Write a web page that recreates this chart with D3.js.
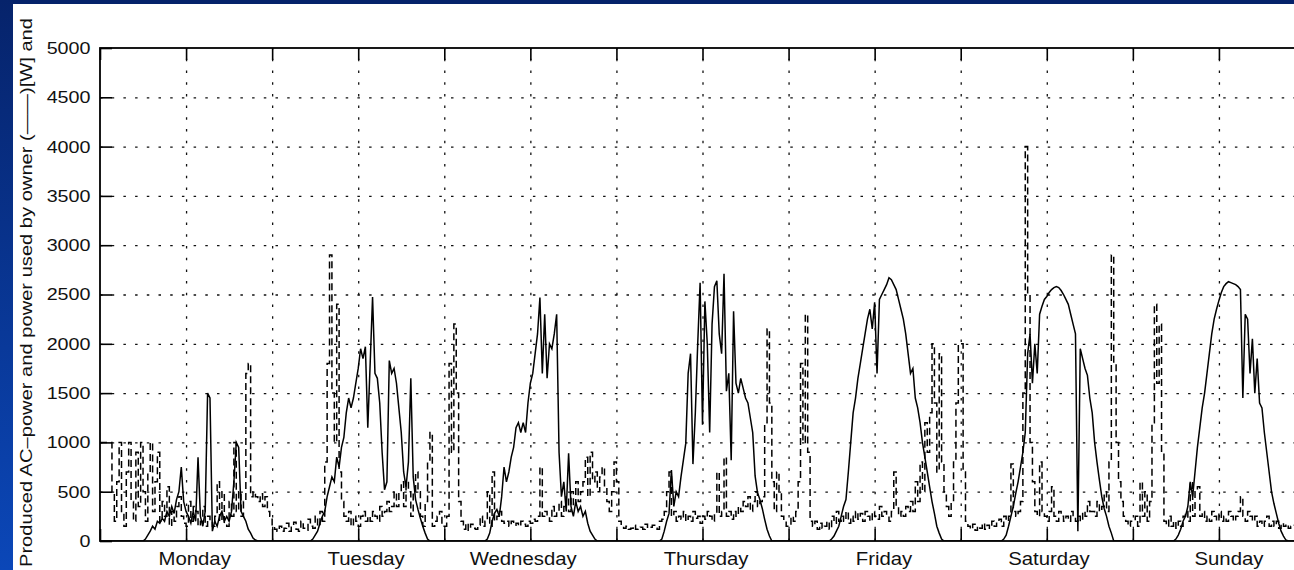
<!DOCTYPE html>
<html>
<head>
<meta charset="utf-8">
<script src="https://cdn.jsdelivr.net/npm/d3@7"></script>
<style>
  html, body { margin: 0; padding: 0; background: #ffffff; overflow: hidden; }
  svg { display: block; }
  text { font-family: "Liberation Sans", Arial, Helvetica, sans-serif; fill: #111; }
</style>
</head>
<body>
<div id="chart"></div>
<script>
// one week, 20-minute samples, values in W
const STEP = 1 / 3;        // hours between samples
const PROD_START = 5;      // production arrays run 05:00 .. 22:00

const days = ["Monday", "Tuesday", "Wednesday", "Thursday", "Friday", "Saturday", "Sunday"];
const dayLabelHours = [13.2, 37.1, 59.0, 84.5, 109.3, 132.3, 157.4];
const yTicks = [0, 500, 1000, 1500, 2000, 2500, 3000, 3500, 4000, 4500, 5000];
const xTicks = [0, 12, 24, 36, 48, 60, 72, 84, 96, 108, 120, 132, 144, 156, 168];

// produced AC power (solid), 05:00 - 22:00
const prodMon = [0, 0, 0, 0, 20, 60, 100, 150, 120, 200, 180, 230, 200, 300, 250, 350, 280, 420,
  500, 750, 400, 300, 250, 180, 300, 200, 850, 250, 150, 300, 1500, 1450, 100, 200, 150, 250,
  300, 200, 250, 200, 300, 600, 1000, 950, 300, 250, 200, 120, 80, 30, 10, 0];
const prodTue = [0, 0, 20, 60, 100, 180, 250, 300, 450, 550, 650, 600, 850, 750, 950, 1050, 1300, 1450,
  1350, 1450, 1600, 1750, 1950, 1850, 1970, 1150, 1800, 2475, 1700, 1650, 1400, 900, 520, 600, 1830, 1700,
  1750, 1600, 1350, 1100, 700, 550, 800, 1650, 650, 420, 320, 230, 150, 80, 20, 0];
const prodWed = [0, 0, 0, 20, 80, 200, 280, 320, 250, 450, 750, 600, 700, 850, 950, 1150, 1200, 1100,
  1200, 1100, 1400, 1600, 1700, 1900, 2100, 2470, 1700, 2300, 1650, 2000, 1950, 2100, 2300, 900, 450, 600,
  300, 890, 350, 250, 400, 300, 350, 250, 300, 180, 100, 60, 20, 0, 0, 0];
const prodThu = [0, 0, 0, 0, 20, 100, 200, 280, 720, 350, 500, 450, 650, 820, 990, 1700, 1900, 780,
  1300, 2000, 2620, 1180, 2430, 2000, 1100, 2200, 2580, 2640, 2100, 1900, 2710, 1520, 1700, 820, 2330, 1600,
  1500, 1650, 1550, 1450, 1400, 1250, 1100, 660, 490, 420, 330, 220, 120, 50, 0, 0];
const prodFri = [0, 0, 0, 20, 50, 100, 150, 250, 350, 420, 700, 1000, 1300, 1450, 1650, 1800, 1950, 2100,
  2250, 2350, 2150, 2420, 1700, 2450, 2500, 2550, 2600, 2670, 2650, 2600, 2550, 2450, 2350, 2250, 2100, 1900,
  1700, 1750, 1450, 1350, 1200, 1000, 850, 700, 550, 400, 280, 150, 80, 20, 0, 0];
const prodSat = [0, 0, 0, 20, 60, 150, 250, 350, 480, 600, 750, 900, 1100, 1900, 2100, 1600, 2000, 1700,
  2300, 2380, 2450, 2480, 2520, 2550, 2570, 2580, 2570, 2540, 2500, 2450, 2400, 2300, 2200, 2100, 100, 1950,
  1850, 1750, 1680, 1450, 1300, 1000, 800, 620, 450, 330, 250, 150, 80, 0, 0, 0];
const prodSun = [0, 0, 0, 20, 60, 120, 200, 250, 350, 600, 450, 700, 950, 1150, 1350, 1500, 1700, 1900,
  2100, 2250, 2350, 2440, 2520, 2580, 2610, 2630, 2620, 2610, 2600, 2580, 2550, 1450, 2300, 2250, 1700, 2050,
  1500, 1850, 1400, 1350, 1100, 900, 700, 500, 380, 280, 180, 100, 50, 10, 0, 0];

// power used by owner (dashed), 00:00 - 23:40
const useMon = [1000, 1000, 1000, 1000, 1000, 500, 200, 600, 1000, 300, 150, 700, 1000, 400, 200, 900, 350, 1000,
  500, 200, 700, 1000, 300, 600, 900, 200, 400, 250, 550, 150, 300, 200, 350, 450, 250, 180,
  150, 400, 200, 350, 300, 150, 200, 350, 150, 250, 200, 150, 250, 600, 200, 500, 180, 150,
  400, 250, 1000, 300, 500, 250, 400, 1700, 1800, 450, 500, 450, 400, 480, 350, 450, 300, 250];
const useTue = [150, 120, 100, 150, 100, 130, 180, 100, 140, 190, 120, 100, 200, 130, 110, 220, 150, 130,
  250, 150, 300, 200, 800, 1800, 2900, 1500, 1000, 2400, 700, 400, 250, 200, 300, 150, 250, 200,
  150, 250, 300, 200, 250, 200, 300, 250, 200, 350, 250, 300, 400, 300, 350, 500, 350, 500,
  600, 350, 600, 500, 250, 500, 700, 500, 250, 150, 400, 800, 1100, 150, 200, 250, 300, 150];
const useWed = [150, 250, 1800, 900, 2200, 1500, 400, 200, 120, 180, 110, 170, 130, 120, 160, 250, 150, 200,
  500, 150, 700, 200, 250, 300, 200, 180, 200, 150, 200, 160, 180, 150, 200, 170, 150, 200,
  180, 220, 200, 250, 750, 250, 300, 250, 200, 350, 250, 300, 400, 250, 350, 450, 300, 500,
  350, 600, 400, 500, 600, 850, 450, 900, 600, 700, 500, 650, 750, 550, 400, 300, 500, 800];
const useThu = [600, 200, 150, 130, 150, 120, 130, 160, 120, 130, 140, 120, 170, 130, 140, 160, 130, 120,
  200, 220, 300, 500, 700, 250, 300, 200, 250, 220, 300, 200, 250, 200, 300, 230, 250, 180,
  250, 220, 300, 250, 200, 280, 700, 250, 300, 850, 250, 300, 220, 300, 250, 350, 300, 400,
  350, 450, 300, 400, 500, 350, 400, 450, 1200, 2150, 1400, 600, 300, 700, 500, 250, 200, 150];
const useFri = [150, 250, 200, 300, 600, 1800, 1000, 2300, 900, 200, 150, 200, 120, 180, 130, 150, 200, 120,
  250, 180, 300, 200, 250, 200, 300, 180, 250, 200, 300, 220, 280, 200, 300, 250, 200, 300,
  250, 220, 350, 250, 300, 250, 200, 300, 700, 350, 250, 300, 250, 350, 300, 400, 300, 600,
  400, 800, 500, 1200, 900, 1300, 2000, 1400, 700, 1900, 800, 500, 350, 250, 400, 800, 1400, 2000];
const useSat = [2000, 700, 200, 150, 120, 170, 110, 150, 130, 180, 120, 160, 130, 200, 150, 180, 220, 150,
  250, 200, 250, 780, 300, 250, 300, 400, 1500, 4000, 2500, 1000, 600, 300, 250, 800, 300, 250,
  200, 300, 550, 250, 200, 300, 250, 200, 250, 200, 300, 250, 200, 250, 200, 300, 250, 400,
  300, 300, 250, 400, 300, 350, 500, 300, 800, 2900, 1800, 1000, 600, 400, 250, 200, 150, 200];
const useSun = [200, 250, 150, 600, 250, 500, 200, 400, 1200, 2400, 1600, 2200, 900, 200, 150, 250, 150, 200,
  130, 200, 150, 250, 300, 200, 600, 250, 500, 550, 250, 300, 200, 250, 200, 300, 250, 200,
  300, 200, 250, 200, 300, 250, 200, 250, 300, 450, 250, 200, 300, 250, 200, 250, 150, 200,
  150, 200, 250, 150, 200, 150, 200, 130, 180, 150, 170, 130, 150, 160, 140, 150, 130, 150];

const prodDays = [prodMon, prodTue, prodWed, prodThu, prodFri, prodSat, prodSun];
const useDays = [useMon, useTue, useWed, useThu, useFri, useSat, useSun];

const width = 1294;
const height = 570;
const margin = {top: 48, left: 100, bottom: 29};
const iheight = height - margin.top - margin.bottom;

// the axes box runs a little past the right edge of the slide
const x = d3.scaleLinear().domain([0, 168]).range([margin.left, 1305]);
const y = d3.scaleLinear().domain([0, 5000]).range([margin.top + iheight, margin.top]);

const produced = [];
prodDays.forEach((day, d) => {
  produced.push({t: d * 24, v: 0});
  day.forEach((v, i) => produced.push({t: d * 24 + PROD_START + i * STEP, v: v}));
});
produced.push({t: 168, v: 0});

const used = [];
useDays.forEach((day, d) => {
  day.forEach((v, i) => used.push({t: d * 24 + i * STEP, v: v}));
});
used.push({t: 168, v: useSun[useSun.length - 1]});

const svg = d3.select("#chart").append("svg")
  .attr("width", width)
  .attr("height", height);

// slide frame
const defs = svg.append("defs");
const grad = defs.append("linearGradient").attr("id", "side")
  .attr("x1", 0).attr("y1", 0).attr("x2", 0).attr("y2", 1);
grad.append("stop").attr("offset", "0%").attr("stop-color", "#06236b");
grad.append("stop").attr("offset", "100%").attr("stop-color", "#0b47b8");
defs.append("clipPath").attr("id", "plot")
  .append("rect").attr("x", x(0)).attr("y", y(5000))
  .attr("width", x(168) - x(0)).attr("height", y(0) - y(5000));

svg.append("rect").attr("width", width).attr("height", height).attr("fill", "#05226a");
svg.append("rect").attr("x", 0).attr("y", 0).attr("width", 13).attr("height", height).attr("fill", "url(#side)");
svg.append("rect").attr("x", 13).attr("y", 4).attr("width", width - 13).attr("height", height - 4).attr("fill", "#ffffff");

// dotted grid
const gridStyle = g => g.selectAll("line")
  .attr("stroke", "#111")
  .attr("stroke-width", 1.3)
  .attr("stroke-dasharray", "2.5,9.2");

svg.append("g")
  .attr("transform", `translate(0,${y(0)})`)
  .call(d3.axisBottom(x).tickValues(xTicks.slice(1, -1)).tickSize(-iheight).tickFormat(""))
  .call(g => g.select(".domain").remove())
  .call(gridStyle);

svg.append("g")
  .attr("transform", `translate(${x(0)},0)`)
  .call(d3.axisLeft(y).tickValues(yTicks.slice(1, -1)).tickSize(-(x(168) - x(0))).tickFormat(""))
  .call(g => g.select(".domain").remove())
  .call(gridStyle);

// data
const plot = svg.append("g").attr("clip-path", "url(#plot)");

plot.append("path")
  .datum(produced)
  .attr("fill", "none")
  .attr("stroke", "#000")
  .attr("stroke-width", 1.5)
  .attr("d", d3.line().x(d => x(d.t)).y(d => y(d.v)));

plot.append("path")
  .datum(used)
  .attr("fill", "none")
  .attr("stroke", "#000")
  .attr("stroke-width", 1.5)
  .attr("stroke-dasharray", "7,4")
  .attr("d", d3.line().curve(d3.curveStepAfter).x(d => x(d.t)).y(d => y(d.v)));

// axes box and inward ticks
svg.append("rect")
  .attr("x", x(0)).attr("y", y(5000))
  .attr("width", x(168) - x(0)).attr("height", y(0) - y(5000))
  .attr("fill", "none").attr("stroke", "#000").attr("stroke-width", 1.8);

const tickStyle = g => {
  g.select(".domain").remove();
  g.selectAll("line").attr("stroke", "#000").attr("stroke-width", 1.6);
};

svg.append("g")
  .attr("transform", `translate(0,${y(0)})`)
  .call(d3.axisBottom(x).tickValues(xTicks).tickSize(-12).tickFormat(""))
  .call(tickStyle);

svg.append("g")
  .attr("transform", `translate(0,${y(5000)})`)
  .call(d3.axisTop(x).tickValues(xTicks).tickSize(-12).tickFormat(""))
  .call(tickStyle);

const yAxis = svg.append("g")
  .attr("transform", `translate(${x(0)},0)`)
  .call(d3.axisLeft(y).tickValues(yTicks).tickSize(-12).tickPadding(8.2).tickFormat(d3.format("d")))
  .call(tickStyle);

yAxis.selectAll("text")
  .attr("font-family", "Liberation Sans, Arial, sans-serif")
  .attr("font-size", 17)
  .attr("fill", "#111")
  .attr("transform", "scale(1.16,1)");

// day names
svg.append("g").selectAll("text")
  .data(days)
  .enter().append("text")
  .attr("text-anchor", "middle")
  .attr("font-size", 18.5)
  .attr("transform", (d, i) => `translate(${x(dayLabelHours[i])},565) scale(1.1,1)`)
  .text(d => d);

// y label along the left edge of the slide
svg.append("text")
  .attr("transform", "translate(32,567) rotate(-90)")
  .attr("font-size", 16.5)
  .attr("textLength", 549)
  .attr("lengthAdjust", "spacingAndGlyphs")
  .text("Produced AC\u2013power and power used by owner (\u2014\u2014)[W] and");
</script>
</body>
</html>
